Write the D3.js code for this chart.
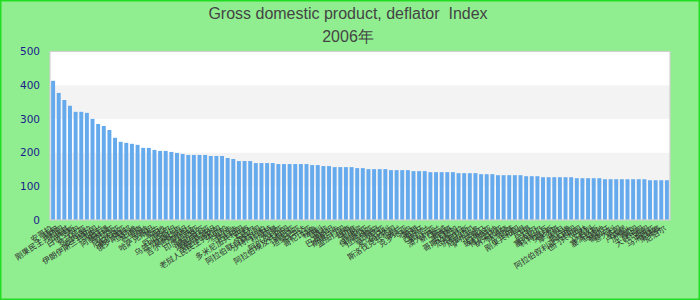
<!DOCTYPE html>
<html>
<head>
<meta charset="utf-8">
<script src="https://cdn.jsdelivr.net/npm/d3@7"></script>
<style>
  body { margin: 0; background: #90ee90; }
  svg { display: block; }
  .title { white-space: pre; }
</style>
</head>
<body>
<div id="chart"></div>
<script>
var titleLines = ["Gross domestic product, deflator  Index", "2006年"];

var countries = [
  "安哥拉", "缅甸", "刚果民主共和国", "土耳其", "白俄罗斯", "苏丹", "罗马尼亚", "委内瑞拉",
  "伊朗伊斯兰共和国", "乌克兰", "阿塞拜疆", "赞比亚", "尼日利亚", "塞尔维亚", "俄罗斯联邦", "马拉维",
  "苏里南", "加纳", "哈萨克斯坦", "蒙古", "海地", "厄瓜多尔", "乌兹别克斯坦", "莫桑比克",
  "吉尔吉斯斯坦", "阿根廷", "印度尼西亚", "摩尔多瓦", "埃塞俄比亚", "塔吉克斯坦", "老挝人民民主共和国", "牙买加",
  "乌拉圭", "巴拉圭", "多米尼加共和国", "巴西", "卡塔尔", "阿拉伯联合酋长国", "沙特阿拉伯", "科威特",
  "阿曼", "阿尔及利亚", "阿拉伯埃及共和国", "肯尼亚", "坦桑尼亚", "乌干达", "哥伦比亚", "秘鲁",
  "智利", "南非", "巴基斯坦", "斯里兰卡", "孟加拉国", "越南", "印度", "菲律宾",
  "保加利亚", "拉脱维亚", "立陶宛", "爱沙尼亚", "匈牙利", "斯洛伐克共和国", "波兰", "克罗地亚",
  "冰岛", "希腊", "西班牙", "爱尔兰", "澳大利亚", "新西兰", "挪威", "墨西哥",
  "哥斯达黎加", "危地马拉", "洪都拉斯", "尼加拉瓜", "萨尔瓦多", "巴拿马", "玻利维亚", "博茨瓦纳",
  "纳米比亚", "喀麦隆", "加蓬", "刚果共和国", "乍得", "马里", "尼日尔", "塞内加尔",
  "科特迪瓦", "突尼斯", "摩洛哥", "约旦", "黎巴嫩", "阿拉伯叙利亚共和国", "也门共和国", "巴林",
  "以色列", "塞浦路斯", "马耳他", "葡萄牙", "意大利", "英国", "卢森堡", "加拿大",
  "美国", "大韩民国", "泰国", "马来西亚", "柬埔寨", "尼泊尔"
];

var values = [
  413, 377, 356, 339, 321, 321, 318, 300, 285, 279,
  267, 244, 232, 229, 226, 223, 214, 214, 208, 205,
  205, 202, 199, 196, 193, 193, 193, 193, 190, 190,
  190, 184, 181, 175, 175, 175, 169, 169, 169, 169,
  166, 166, 166, 166, 166, 166, 163, 163, 160, 160,
  157, 157, 157, 157, 154, 154, 151, 151, 151, 151,
  148, 148, 148, 148, 145, 145, 145, 142, 142, 142,
  142, 142, 139, 139, 139, 139, 136, 136, 136, 133,
  133, 133, 133, 133, 130, 130, 130, 127, 127, 127,
  127, 127, 127, 124, 124, 124, 124, 124, 121, 121,
  121, 121, 121, 121, 121, 121, 118, 118, 118, 118
];

var yTicks = [0, 100, 200, 300, 400, 500];

var W = 700, H = 300;
var plot = { left: 50, right: 670, top: 51.5, bottom: 220 };

var svg = d3.select("#chart").append("svg")
    .attr("width", W)
    .attr("height", H);

svg.append("rect")
    .attr("x", 0.75).attr("y", 0.75)
    .attr("width", W - 1.5).attr("height", H - 1.5)
    .attr("fill", "#90ee90")
    .attr("stroke", "#22dd22")
    .attr("stroke-width", 1.5);

// title
svg.append("g").selectAll("text")
    .data(titleLines)
    .enter().append("text")
    .attr("class", "title")
    .attr("x", 348)
    .attr("y", function(d, i) { return 19 + i * 23; })
    .attr("text-anchor", "middle")
    .attr("font-family", "'Liberation Sans', Arial, sans-serif")
    .attr("font-size", "16px")
    .attr("fill", "#444444")
    .text(function(d) { return d; });

var x = d3.scaleBand()
    .domain(d3.range(values.length))
    .range([plot.left, plot.right])
    .paddingInner(0.3)
    .paddingOuter(0.2);

var y = d3.scaleLinear()
    .domain([0, 500])
    .range([plot.bottom, plot.top]);

// plot background + alternating bands
svg.append("rect")
    .attr("x", plot.left).attr("y", plot.top)
    .attr("width", plot.right - plot.left)
    .attr("height", plot.bottom - plot.top)
    .attr("fill", "#ffffff");

var bands = d3.range(yTicks.length - 1);
svg.append("g").selectAll("rect")
    .data(bands)
    .enter().append("rect")
    .attr("x", plot.left)
    .attr("y", function(i) { return y(yTicks[i + 1]); })
    .attr("width", plot.right - plot.left)
    .attr("height", function(i) { return y(yTicks[i]) - y(yTicks[i + 1]); })
    .attr("fill", function(i) { return i % 2 == 1 ? "#f3f3f3" : (i == 0 ? "#f8f8f8" : "#ffffff"); });

svg.append("g").selectAll("rect")
    .data(values)
    .enter().append("rect")
    .attr("x", function(d, i) { return x(i); })
    .attr("y", function(d) { return y(d); })
    .attr("width", x.bandwidth())
    .attr("height", function(d) { return y(0) - y(d); })
    .attr("fill", "#66aaee");

// border
svg.append("rect")
    .attr("x", plot.left).attr("y", plot.top)
    .attr("width", plot.right - plot.left)
    .attr("height", plot.bottom - plot.top)
    .attr("fill", "none")
    .attr("stroke", "#d0d0d0")
    .attr("stroke-width", 1.2);

// y axis
var yAxis = d3.axisLeft(y)
    .tickValues(yTicks)
    .tickSize(0)
    .tickPadding(10);

var yAxisElem = svg.append("g")
    .attr("transform", "translate(" + plot.left + ",0)")
    .call(yAxis);
yAxisElem.select(".domain").remove();
yAxisElem.selectAll("text")
    .attr("font-family", "'DejaVu Sans', Verdana, sans-serif")
    .attr("font-size", "10.5px")
    .attr("fill", "#1c1c8c");

// x labels
svg.append("g").selectAll("text")
    .data(countries)
    .enter().append("text")
    .attr("text-anchor", "end")
    .attr("font-family", "'Noto Sans CJK SC', sans-serif")
    .attr("font-size", "8px")
    .attr("fill", "#333333")
    .attr("transform", function(d, i) {
        return "translate(" + (x(i) + x.bandwidth() / 2) + "," + (plot.bottom + 10) + ") rotate(-33)";
    })
    .text(function(d) { return d; });
</script>
</body>
</html>
